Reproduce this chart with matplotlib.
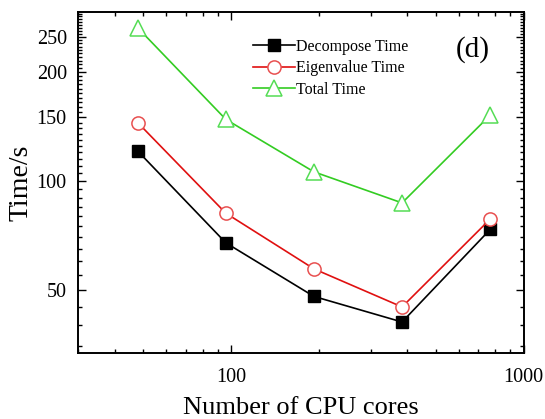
import numpy as np
import matplotlib
matplotlib.use("Agg")
import matplotlib.pyplot as plt
from matplotlib.ticker import FixedLocator, NullFormatter, FixedFormatter

################################################
## DATA
################################################
cores = [48, 96, 192, 384, 768]
decompose = [121, 67.5, 48, 40.8, 73.5]
eigenvalue = [145, 81.5, 57.2, 44.9, 78.5]
total = [265, 148, 106, 87, 152]

ytick_vals = [50, 100, 150, 200, 250]
ytick_labels = ["50", "100", "150", "200", "250"]
xtick_vals = [100, 1000]
xtick_labels = ["100", "1000"]

################################################
## PLOT
################################################
plt.rcParams["font.family"] = ["Liberation Serif", "DejaVu Serif"]

fig = plt.figure(figsize=(5.45, 4.19), dpi=100)
ax = fig.add_axes([0.143, 0.1575, 0.818, 0.814])

ax.plot(cores, decompose, color="black", lw=1.2, marker="s", ms=8,
        mfc="black", mec="black", label="Decompose Time")
ax.plot(cores, eigenvalue, color="#e01010", lw=1.2, marker="o", ms=9.5,
        mfc="white", mec="#e85050", mew=1.1, label="Eigenvalue Time")
ax.plot(cores, total, color="#33cc22", lw=1.2, marker="^", ms=11,
        mfc="white", mec="#55dd55", mew=1.1, label="Total Time")

ax.set_xscale("log")
ax.set_yscale("log")
ax.set_xlim(30, 1000)
ax.set_ylim(33.5, 293)

ax.yaxis.set_major_locator(FixedLocator(ytick_vals))
ax.yaxis.set_major_formatter(FixedFormatter(ytick_labels))
ax.yaxis.set_minor_locator(FixedLocator(list(range(35, 295, 5))))
ax.yaxis.set_minor_formatter(NullFormatter())
ax.xaxis.set_major_locator(FixedLocator(xtick_vals))
ax.xaxis.set_major_formatter(FixedFormatter(xtick_labels))

ax.tick_params(which="both", direction="in", top=True, right=True,
               labelsize=14.5, width=1.0)
ax.tick_params(which="major", length=6)
ax.tick_params(which="minor", length=3)
ax.tick_params(axis="x", pad=11)
ax.tick_params(axis="y", pad=8)
for s in ax.spines.values():
    s.set_linewidth(1.4)

ax.set_xlabel("Number of CPU cores", fontsize=19, labelpad=7)
ax.set_ylabel("Time/s", fontsize=20, labelpad=2)

ax.legend(loc="upper left", bbox_to_anchor=(0.372, 0.95), frameon=False,
          fontsize=11.5, handlelength=2.6, handletextpad=0.1,
          labelspacing=0.35, borderaxespad=0.2)

ax.text(0.885, 0.89, "(d)", transform=ax.transAxes, fontsize=21,
        ha="center", va="center")

fig.savefig("out.png", dpi=100)
